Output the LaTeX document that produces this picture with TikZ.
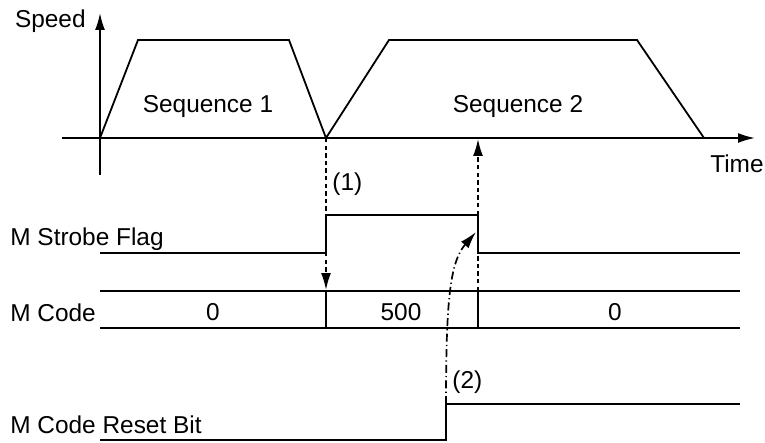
\documentclass[tikz,border=0pt]{standalone}
\usepackage{fontspec}
\setmainfont{Liberation Sans}
\usetikzlibrary{arrows.meta}

\begin{document}
\begin{tikzpicture}[x=0.5pt,y=-0.5pt,>={Latex[length=8.5pt,width=5pt]},
        wave/.style={line width=0.9pt},
        lbl/.style={inner sep=0pt,anchor=base west,font=\fontsize{12.2}{14}\selectfont},
        val/.style={inner sep=0pt,anchor=base,font=\fontsize{12.2}{14}\selectfont},
        trig/.style={line width=0.85pt,dash pattern=on 2.2pt off 1.6pt},
        reset/.style={line width=0.85pt,dash pattern=on 4pt off 1.6pt on 0.6pt off 1.6pt}]
        \useasboundingbox (0,0) rectangle (765,443);
        % speed profile
        \draw[wave,->] (100,175) -- (100,13);
        \draw[wave,->] (62,138) -- (755,138);
        \node[lbl,anchor=base east] (speed) at (86,28) {Speed};
        \node[lbl,anchor=base east] (time) at (764,173) {Time};
        \draw[wave] (100,138) -- (138,40) -- (289,40) -- (326,138)
                 -- (389,40) -- (637,40) -- (704,138);
        \node[val] (seq1) at (208,113) {Sequence 1};
        \node[val] (seq2) at (518,113) {Sequence 2};
        % signals
        \node[lbl] (flag) at (10,246) {M Strobe Flag};
        \node[lbl] (mcode) at (10,321) {M Code};
        \node[lbl] (rbit) at (10,433) {M Code Reset Bit};
        \draw[wave] (100,253) -- (326,253) -- (326,215) -- (478,215)
                 -- (478,253) -- (740,253);
        \draw[wave] (100,291) -- (740,291);
        \draw[wave] (100,328) -- (740,328);
        \draw[wave] (326,291) -- (326,328);
        \draw[wave] (478,291) -- (478,328);
        \node[val] (c0) at (213,320) {0};
        \node[val] (c500) at (401,320) {500};
        \node[val] (c0b) at (615,320) {0};
        \draw[wave] (100,440) -- (446,440) -- (446,404) -- (740,404);
        % connectors
        \coordinate (stop1) at (326,138);
        \coordinate (set) at (326,290);
        \coordinate (clr) at (478,291);
        \coordinate (start2) at (478,139);
        \coordinate (rise) at (446,404);
        \coordinate (fall) at (476,232);
        \draw[trig,->] (stop1) -- (set);
        \draw[trig,->] (clr) -- (start2);
        \draw[reset,->] (rise) .. controls (446,300) and (450,262) .. (fall);
        \node[lbl] (n1) at (332,191) {(1)};
        \node[lbl] (n2) at (452,388) {(2)};
    \end{tikzpicture}
\end{document}
